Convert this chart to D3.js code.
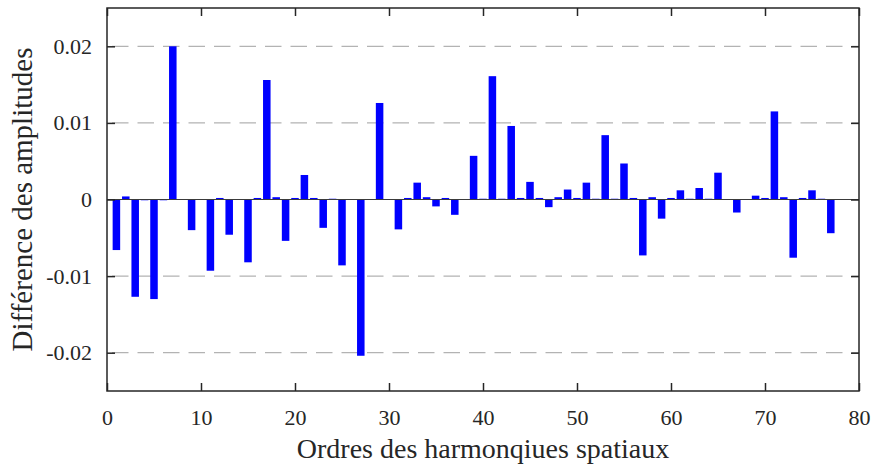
<!DOCTYPE html>
<html>
<head>
<meta charset="utf-8">
<script src="https://cdn.jsdelivr.net/npm/d3@7"></script>
<style>
  html, body { margin: 0; padding: 0; background: #fff; }
  svg { display: block; }
  text { font-family: "Liberation Serif", "Times New Roman", serif; fill: #262626; }
</style>
</head>
<body>
<svg id="chart" width="874" height="466"></svg>
<script>
// Harmonic orders and amplitude differences
const orders = d3.range(1, 80);
const diffs = [
  -0.0066, 0.0004, -0.0127, -0.0001, -0.0130, -0.0001, 0.0200, 0.0000, -0.0040, 0.0000,
  -0.0093, 0.0002, -0.0046, 0.0000, -0.0082, 0.0002, 0.0156, 0.0003, -0.0054, 0.0002,
   0.0032, 0.0002, -0.0037, 0.0001, -0.0086, 0.0000, -0.0204, 0.0000, 0.0126, 0.0000,
  -0.0039, 0.0002, 0.0022, 0.0003, -0.0009, 0.0002, -0.0020, 0.0000, 0.0057, 0.0001,
   0.0161, 0.0001, 0.0096, 0.0002, 0.0023, 0.0002, -0.0010, 0.0003, 0.0013, 0.0002,
   0.0022, 0.0001, 0.0084, 0.0001, 0.0047, 0.0002, -0.0073, 0.0003, -0.0025, 0.0002,
   0.0012, 0.0001, 0.0015, 0.0001, 0.0035, 0.0000, -0.0017, 0.0000, 0.0005, 0.0002,
   0.0115, 0.0003, -0.0076, 0.0002, 0.0012, 0.0001, -0.0044, 0.0000, 0.0000
];
const xTicks = [0, 10, 20, 30, 40, 50, 60, 70, 80];
const yTicks = [-0.02, -0.01, 0, 0.01, 0.02];
const yTickLabels = ["-0.02", "-0.01", "0", "0.01", "0.02"];
const xTitle = "Ordres des harmonqiues spatiaux";
const yTitle = "Différence des amplitudes";

const W = 874, H = 466;
const margin = { top: 8, right: 15, bottom: 75, left: 107 };
const iw = W - margin.left - margin.right;
const ih = H - margin.top - margin.bottom;

const svg = d3.select("#chart");
const g = svg.append("g").attr("transform", `translate(${margin.left},${margin.top})`);

const x = d3.scaleLinear().domain([0, 80]).range([0, iw]);
const y = d3.scaleLinear().domain([-0.025, 0.025]).range([ih, 0]);
const barW = x(0.8) - x(0);

// dashed horizontal grid
g.append("g").selectAll("line")
  .data(yTicks.filter(d => d !== 0))
  .join("line")
  .attr("x1", 0).attr("x2", iw)
  .attr("y1", d => y(d)).attr("y2", d => y(d))
  .attr("stroke", "#b3b3b3")
  .attr("stroke-width", 1.2)
  .attr("stroke-dasharray", "16.5,9")
  .attr("stroke-dashoffset", 20.5);

// bars
g.append("g").selectAll("rect")
  .data(orders.map((o, i) => ({ o, v: diffs[i] })))
  .join("rect")
  .attr("x", d => x(d.o) - barW / 2)
  .attr("width", barW)
  .attr("y", d => Math.min(y(d.v), y(0)))
  .attr("height", d => Math.abs(y(d.v) - y(0)))
  .attr("fill", "#0000ff");

// baseline
g.append("line")
  .attr("x1", 0).attr("x2", iw)
  .attr("y1", y(0)).attr("y2", y(0))
  .attr("stroke", "#3a3a3a")
  .attr("stroke-width", 1);

// axes (ticks pointing inward, box on all four sides)
const tickLen = 8;
const axisColor = "#262626";

const xb = g.append("g").attr("transform", `translate(0,${ih})`)
  .call(d3.axisBottom(x).tickValues(xTicks).tickSize(-tickLen).tickPadding(18.5).tickSizeOuter(0));
const xt = g.append("g")
  .call(d3.axisTop(x).tickValues(xTicks).tickSize(-tickLen).tickFormat("").tickSizeOuter(0));
const yl = g.append("g")
  .call(d3.axisLeft(y).tickValues(yTicks).tickSize(-tickLen).tickPadding(7 + tickLen)
    .tickFormat((d, i) => yTickLabels[i]).tickSizeOuter(0));
const yr = g.append("g").attr("transform", `translate(${iw},0)`)
  .call(d3.axisRight(y).tickValues(yTicks).tickSize(-tickLen).tickFormat("").tickSizeOuter(0));

[xb, xt, yl, yr].forEach(a => {
  a.select(".domain").remove();
  a.selectAll(".tick line").attr("stroke", axisColor).attr("stroke-width", 1.5);
  a.selectAll(".tick text").attr("font-size", 22).attr("fill", axisColor)
    .style("font-family", '"Liberation Serif", "Times New Roman", serif');
});
xb.selectAll(".tick text").attr("dy", "0.71em");

// frame
g.append("rect")
  .attr("x", 0).attr("y", 0).attr("width", iw).attr("height", ih)
  .attr("fill", "none").attr("stroke", axisColor).attr("stroke-width", 1.5);

// axis titles
g.append("text")
  .attr("x", iw / 2).attr("y", ih + 67)
  .attr("text-anchor", "middle")
  .attr("font-size", 28)
  .text(xTitle);

g.append("text")
  .attr("transform", `translate(${-margin.left + 32},${ih / 2}) rotate(-90)`)
  .attr("text-anchor", "middle")
  .attr("font-size", 29)
  .text(yTitle);
</script>
</body>
</html>
